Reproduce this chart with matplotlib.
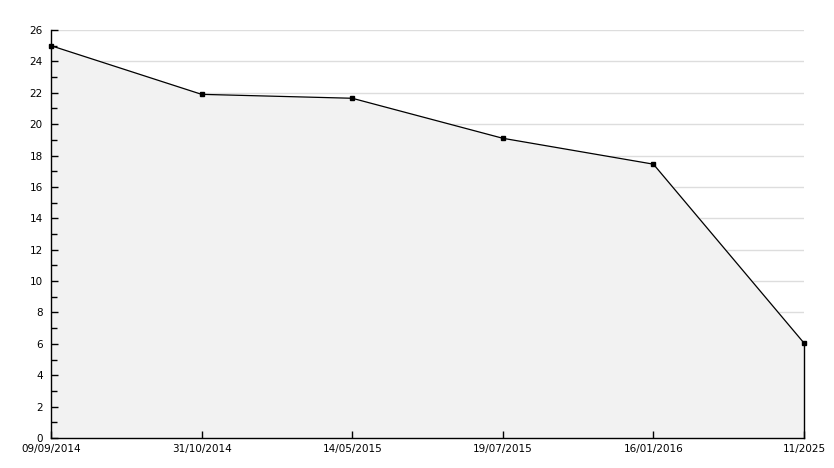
import matplotlib
matplotlib.use("Agg")
import matplotlib.pyplot as plt
from matplotlib.ticker import MultipleLocator

dates = ["09/09/2014", "31/10/2014", "14/05/2015", "19/07/2015", "16/01/2016", "11/2025"]
values = [25.0, 21.9, 21.65, 19.1, 17.45, 6.05]

W, H = 834, 468
fig = plt.figure(figsize=(W / 100, H / 100), dpi=100)
left, right, top, bottom = 51, 804, 30, 438
ax = fig.add_axes([left / W, 1 - bottom / H, (right - left) / W, (bottom - top) / H])

x = list(range(len(dates)))
ax.set_xlim(0, len(dates) - 1)
ax.set_ylim(0, 26)
ax.yaxis.set_major_locator(MultipleLocator(2))
ax.yaxis.set_minor_locator(MultipleLocator(1))

for yv in ax.get_yticks():
    if 0 < yv <= 26:
        ax.axhline(yv, color="#dddddd", lw=1, zorder=0.2)

ax.fill_between(x, values, 0, color="#f2f2f2", zorder=1)
ax.plot(x, values, color="black", lw=0.9, marker="s", ms=3.5, zorder=3, clip_on=False)
ax.plot([x[-1], x[-1]], [0, values[-1]], color="black", lw=1, zorder=3, clip_on=False)

ax.set_xticks(x)
ax.set_xticklabels(dates)
ax.set_axisbelow(False)

for s in ["top", "right"]:
    ax.spines[s].set_visible(False)
for s in ["left", "bottom"]:
    ax.spines[s].set_linewidth(1)
    ax.spines[s].set_zorder(4)

ax.tick_params(axis="both", which="major", direction="in", length=5, width=1,
               labelsize=7.5, colors="black", pad=3)
ax.tick_params(axis="y", which="minor", direction="in", length=4, width=1)
ax.tick_params(axis="y", which="major", pad=6)
ax.tick_params(axis="x", which="major", pad=4)

fig.savefig("out.png", dpi=100)
